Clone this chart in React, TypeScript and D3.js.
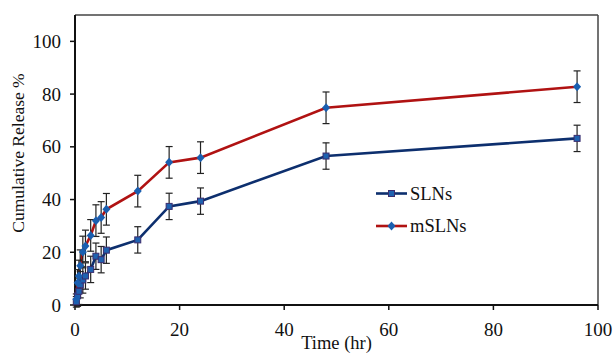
import React from "react";
import * as d3 from "d3";

const times = [0.25, 0.5, 0.75, 1, 1.5, 2, 3, 4, 5, 6, 12, 18, 24, 48, 96];
const slnValues = [1.2, 3.5, 5.2, 7.7, 9.5, 11, 13.5, 18.5, 17.2, 20.8, 24.7, 37.4, 39.4, 56.5, 63.2];
const slnErrors = [2, 4, 5, 5, 5, 5, 5, 5, 5, 5, 5, 5, 5, 5, 5];
const mslnValues = [2.2, 8.4, 11, 14.9, 20.1, 22.4, 26.4, 32, 33.2, 36.3, 43.2, 54.1, 55.9, 74.8, 82.8];
const mslnErrors = [2, 5, 6, 6, 6, 6, 6, 6, 6, 6, 6, 6, 6, 6, 6];
const xTicks = [0, 20, 40, 60, 80, 100];
const yTicks = [0, 20, 40, 60, 80, 100];
const seriesNames = ["SLNs", "mSLNs"];

const W = 615;
const H = 363;
const L = 75, R = 598, T = 15, B = 305;
const FONT = "'Liberation Serif', 'Times New Roman', serif";

export default function App() {
  const x = d3.scaleLinear().domain([0, 100]).range([L, R]);
  const y = d3.scaleLinear().domain([0, 110]).range([B, T]);
  const line = d3.line<[number, number]>().x((d) => x(d[0])).y((d) => y(d[1]));

  const series = [
    { name: seriesNames[0], vals: slnValues, errs: slnErrors, color: "#0d2f6e", marker: "square" },
    { name: seriesNames[1], vals: mslnValues, errs: mslnErrors, color: "#b01212", marker: "diamond" },
  ];

  const marker = (kind: string, cx: number, cy: number, key: string) =>
    kind === "square" ? (
      <rect key={key} x={cx - 3} y={cy - 3} width={6} height={6} fill="#1f62b0" stroke="#3b2d6e" strokeWidth={1} />
    ) : (
      <path key={key} d={`M${cx},${cy - 4.5}L${cx + 4},${cy}L${cx},${cy + 4.5}L${cx - 4},${cy}Z`} fill="#1a5fb0" />
    );

  return (
    <svg width={W} height={H} style={{ position: "absolute", left: 0, top: 0, background: "#fff" }} fontFamily={FONT}>
      <rect x={0} y={0} width={W} height={H} fill="#fff" />
      {/* frame */}
      <line x1={L} y1={T} x2={R} y2={T} stroke="#444" strokeWidth={1.5} />
      <line x1={R} y1={T} x2={R} y2={B} stroke="#444" strokeWidth={1.5} />
      <line x1={L} y1={T} x2={L} y2={B} stroke="#111" strokeWidth={2} />
      <line x1={L} y1={B} x2={R} y2={B} stroke="#111" strokeWidth={2} />
      {yTicks.map((t) => (
        <g key={"y" + t}>
          <line x1={L - 5} x2={L} y1={y(t)} y2={y(t)} stroke="#111" strokeWidth={1.5} />
          <text x={L - 14} y={y(t)} dy="0.35em" textAnchor="end" fontSize={19} fill="#111">{t}</text>
        </g>
      ))}
      {xTicks.map((t) => (
        <g key={"x" + t}>
          <line x1={x(t)} x2={x(t)} y1={B} y2={B + 5} stroke="#111" strokeWidth={1.5} />
          <text x={x(t)} y={B + 31} textAnchor="middle" fontSize={19} fill="#111">{t}</text>
        </g>
      ))}
      <text x={(L + R) / 2} y={349} textAnchor="middle" fontSize={18.5} fill="#111">Time (hr)</text>
      <text transform={`translate(24,${153}) rotate(-90)`} textAnchor="middle" fontSize={17.5} fill="#111">Cumulative Release %</text>

      {series.map((s) => (
        <g key={s.name}>
          <path d={line(times.map((t, i) => [t, s.vals[i]] as [number, number])) || ""} fill="none" stroke={s.color} strokeWidth={2.6} />
        </g>
      ))}
      {series.map((s) => (
        <g key={s.name + "err"}>
          {times.map((t, i) => {
            const cx = x(t);
            const y1 = y(s.vals[i] + s.errs[i]);
            const y2 = y(s.vals[i] - s.errs[i]);
            return (
              <g key={i} stroke="#222" strokeWidth={1.2}>
                <line x1={cx} x2={cx} y1={y1} y2={y2} />
                <line x1={cx - 3.5} x2={cx + 3.5} y1={y1} y2={y1} />
                <line x1={cx - 3.5} x2={cx + 3.5} y1={y2} y2={y2} />
              </g>
            );
          })}
        </g>
      ))}
      {series.map((s) => (
        <g key={s.name + "m"}>{times.map((t, i) => marker(s.marker, x(t), y(s.vals[i]), s.name + i))}</g>
      ))}

      {/* legend */}
      {series.map((s, i) => {
        const ly = 193.5 + i * 32.5;
        return (
          <g key={"lg" + s.name}>
            <line x1={376} x2={407} y1={ly} y2={ly} stroke={s.color} strokeWidth={2.6} />
            {marker(s.marker, 391.5, ly, "lm" + i)}
            <text x={410} y={ly} dy="0.33em" fontSize={18.5} fill="#111">{s.name}</text>
          </g>
        );
      })}
    </svg>
  );
}
